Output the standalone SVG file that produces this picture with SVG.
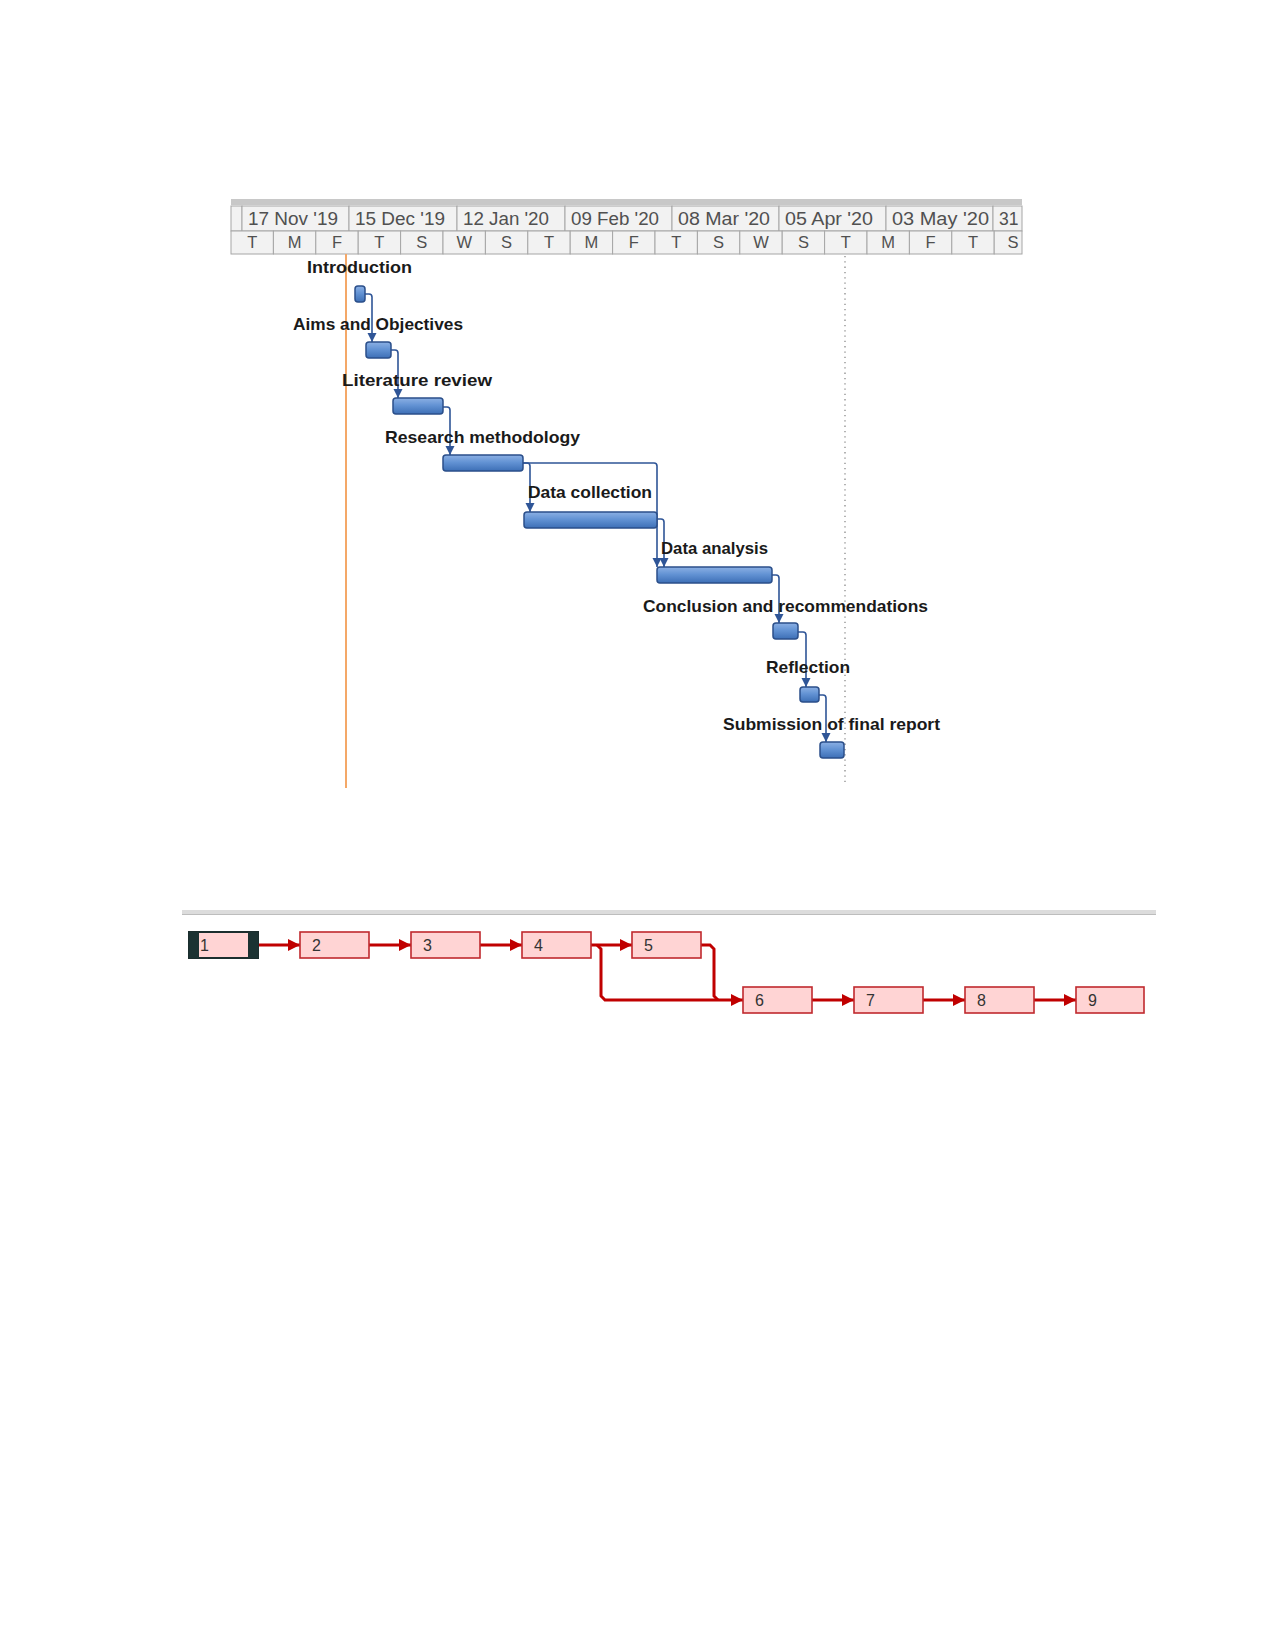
<svg xmlns="http://www.w3.org/2000/svg" width="1275" height="1651" viewBox="0 0 1275 1651">
<defs>
<style>
.hdr{fill:#f2f2f2;stroke:#a6a6a6;stroke-width:1}
.ht{font-family:"Liberation Sans",Arial,sans-serif;font-size:17.5px;fill:#505050}
.dt{font-family:"Liberation Sans",Arial,sans-serif;font-size:16.5px;fill:#505050;text-anchor:middle}
.lbl{font-family:"Liberation Sans",Arial,sans-serif;font-size:16.5px;font-weight:bold;fill:#1a1a1a}
.bar{fill:url(#barg);stroke:#2b4f8a;stroke-width:1.5}
.gc{fill:none;stroke:#2f5597;stroke-width:1.6;marker-end:url(#ga)}
.nbox{fill:#ffd4d4;stroke:#c0282d;stroke-width:1.6}
.nt{font-family:"Liberation Sans",Arial,sans-serif;font-size:16px;fill:#333}
.nc{fill:none;stroke:#c00000;stroke-width:3}
.na{marker-end:url(#na)}
</style>
<linearGradient id="barg" x1="0" y1="0" x2="0" y2="1">
<stop offset="0" stop-color="#8cb0e4"/>
<stop offset="0.45" stop-color="#6393d4"/>
<stop offset="1" stop-color="#3d6fb6"/>
</linearGradient>
<marker id="ga" viewBox="0 0 10 10" refX="10" refY="5" markerUnits="userSpaceOnUse" markerWidth="9" markerHeight="15" orient="auto">
<path d="M0,0 L10,5 L0,10 z" fill="#2f5597"/>
</marker>
<marker id="na" viewBox="0 0 10 10" refX="10" refY="5" markerUnits="userSpaceOnUse" markerWidth="12" markerHeight="12" orient="auto">
<path d="M0,0 L10,5 L0,10 z" fill="#c00000"/>
</marker>
</defs>
<rect width="1275" height="1651" fill="#ffffff"/>

<g id="gantt-header">
<rect x="231" y="199" width="791" height="6" fill="#c8c8c8"/>
<rect class="hdr" x="231" y="206" width="11" height="25"/>
<rect class="hdr" x="242" y="206" width="107" height="25"/>
<rect class="hdr" x="349" y="206" width="108" height="25"/>
<rect class="hdr" x="457" y="206" width="108" height="25"/>
<rect class="hdr" x="565" y="206" width="107" height="25"/>
<rect class="hdr" x="672" y="206" width="107" height="25"/>
<rect class="hdr" x="779" y="206" width="107" height="25"/>
<rect class="hdr" x="886" y="206" width="107" height="25"/>
<rect class="hdr" x="993" y="206" width="29" height="25"/>
<text class="ht" x="248" y="225" textLength="90" lengthAdjust="spacingAndGlyphs">17 Nov '19</text>
<text class="ht" x="355" y="225" textLength="90" lengthAdjust="spacingAndGlyphs">15 Dec '19</text>
<text class="ht" x="463" y="225" textLength="86" lengthAdjust="spacingAndGlyphs">12 Jan '20</text>
<text class="ht" x="571" y="225" textLength="88" lengthAdjust="spacingAndGlyphs">09 Feb '20</text>
<text class="ht" x="678" y="225" textLength="92" lengthAdjust="spacingAndGlyphs">08 Mar '20</text>
<text class="ht" x="785" y="225" textLength="88" lengthAdjust="spacingAndGlyphs">05 Apr '20</text>
<text class="ht" x="892" y="225" textLength="97" lengthAdjust="spacingAndGlyphs">03 May '20</text>
<text class="ht" x="999" y="225">31</text>
<rect class="hdr" x="231" y="231" width="42.4" height="23"/>
<rect class="hdr" x="273.4" y="231" width="42.4" height="23"/>
<rect class="hdr" x="315.8" y="231" width="42.4" height="23"/>
<rect class="hdr" x="358.2" y="231" width="42.4" height="23"/>
<rect class="hdr" x="400.6" y="231" width="42.4" height="23"/>
<rect class="hdr" x="443" y="231" width="42.4" height="23"/>
<rect class="hdr" x="485.4" y="231" width="42.4" height="23"/>
<rect class="hdr" x="527.8" y="231" width="42.4" height="23"/>
<rect class="hdr" x="570.2" y="231" width="42.4" height="23"/>
<rect class="hdr" x="612.6" y="231" width="42.4" height="23"/>
<rect class="hdr" x="655" y="231" width="42.4" height="23"/>
<rect class="hdr" x="697.4" y="231" width="42.4" height="23"/>
<rect class="hdr" x="739.8" y="231" width="42.4" height="23"/>
<rect class="hdr" x="782.2" y="231" width="42.4" height="23"/>
<rect class="hdr" x="824.6" y="231" width="42.4" height="23"/>
<rect class="hdr" x="867" y="231" width="42.4" height="23"/>
<rect class="hdr" x="909.4" y="231" width="42.4" height="23"/>
<rect class="hdr" x="951.8" y="231" width="42.4" height="23"/>
<rect class="hdr" x="994.2" y="231" width="27.8" height="23"/>
<text class="dt" x="252.2" y="248">T</text>
<text class="dt" x="294.6" y="248">M</text>
<text class="dt" x="337" y="248">F</text>
<text class="dt" x="379.4" y="248">T</text>
<text class="dt" x="421.8" y="248">S</text>
<text class="dt" x="464.2" y="248">W</text>
<text class="dt" x="506.6" y="248">S</text>
<text class="dt" x="549" y="248">T</text>
<text class="dt" x="591.4" y="248">M</text>
<text class="dt" x="633.8" y="248">F</text>
<text class="dt" x="676.2" y="248">T</text>
<text class="dt" x="718.6" y="248">S</text>
<text class="dt" x="761" y="248">W</text>
<text class="dt" x="803.4" y="248">S</text>
<text class="dt" x="845.8" y="248">T</text>
<text class="dt" x="888.2" y="248">M</text>
<text class="dt" x="930.6" y="248">F</text>
<text class="dt" x="973" y="248">T</text>
<text class="dt" x="1013" y="248">S</text>
</g>

<g id="gantt-guides">
<line x1="346" y1="254" x2="346" y2="788" stroke="#f4a868" stroke-width="2"/>
<line x1="845" y1="256" x2="845" y2="785" stroke="#8a8a8a" stroke-width="1.3" stroke-dasharray="1.3 4"/>
</g>

<g id="gantt-connectors">
<path class="gc" d="M365 294 H369 Q372 294 372 297 V342"/>
<path class="gc" d="M391 350 H395 Q398 350 398 353 V398"/>
<path class="gc" d="M443 407 H447 Q450 407 450 410 V455"/>
<path class="gc" d="M523 463 H527 Q530 463 530 466 V512"/>
<path class="gc" d="M523 463 H654 Q657 463 657 466 V567"/>
<path class="gc" d="M657 519 H661 Q664 519 664 522 V567"/>
<path class="gc" d="M772 575 H776 Q779 575 779 578 V623"/>
<path class="gc" d="M798 632 H803 Q806 632 806 635 V687"/>
<path class="gc" d="M819 695 H823 Q826 695 826 698 V742"/>
</g>

<g id="task-introduction">
<rect class="bar" x="355" y="286" width="10" height="16" rx="3"/>
<text class="lbl" x="307" y="273" textLength="105" lengthAdjust="spacingAndGlyphs">Introduction</text>
</g>
<g id="task-aims">
<rect class="bar" x="366" y="342" width="25" height="16" rx="3"/>
<text class="lbl" x="293" y="330" textLength="170" lengthAdjust="spacingAndGlyphs">Aims and Objectives</text>
</g>
<g id="task-literature">
<rect class="bar" x="393" y="398" width="50" height="16" rx="3"/>
<text class="lbl" x="342" y="386" textLength="150" lengthAdjust="spacingAndGlyphs">Literature review</text>
</g>
<g id="task-methodology">
<rect class="bar" x="443" y="455" width="80" height="16" rx="3"/>
<text class="lbl" x="385" y="443" textLength="195" lengthAdjust="spacingAndGlyphs">Research methodology</text>
</g>
<g id="task-data-collection">
<rect class="bar" x="524" y="512" width="133" height="16" rx="3"/>
<text class="lbl" x="528" y="498" textLength="124" lengthAdjust="spacingAndGlyphs">Data collection</text>
</g>
<g id="task-data-analysis">
<rect class="bar" x="657" y="567" width="115" height="16" rx="3"/>
<text class="lbl" x="661" y="554" textLength="107" lengthAdjust="spacingAndGlyphs">Data analysis</text>
</g>
<g id="task-conclusion">
<rect class="bar" x="773" y="623" width="25" height="16" rx="3"/>
<text class="lbl" x="643" y="612" textLength="285" lengthAdjust="spacingAndGlyphs">Conclusion and recommendations</text>
</g>
<g id="task-reflection">
<rect class="bar" x="800" y="687" width="19" height="15" rx="3"/>
<text class="lbl" x="766" y="673" textLength="84" lengthAdjust="spacingAndGlyphs">Reflection</text>
</g>
<g id="task-submission">
<rect class="bar" x="820" y="742" width="24" height="16" rx="3"/>
<text class="lbl" x="723" y="730" textLength="217" lengthAdjust="spacingAndGlyphs">Submission of final report</text>
</g>

<g id="network-separator">
<rect x="182" y="910" width="974" height="5" fill="#dcdcdc"/>
<line x1="182" y1="914.5" x2="1156" y2="914.5" stroke="#bdbdbd" stroke-width="1"/>
</g>

<g id="network-connectors">
<path class="nc na" d="M258 945 H300"/>
<path class="nc na" d="M369 945 H411"/>
<path class="nc na" d="M480 945 H522"/>
<path class="nc na" d="M591 945 H632"/>
<path class="nc na" d="M597 945 L601 949 V996 L605 1000 H743"/>
<path class="nc" d="M701 945 H710 L714 949 V996 L718 1000"/>
<path class="nc na" d="M812 1000 H854"/>
<path class="nc na" d="M923 1000 H965"/>
<path class="nc na" d="M1034 1000 H1076"/>
</g>

<g id="node-1">
<rect x="189" y="932" width="69" height="26" fill="#ffd4d4" stroke="#1b2d2d" stroke-width="2"/>
<rect x="189" y="932" width="10" height="26" fill="#1b3232"/>
<rect x="248" y="932" width="10" height="26" fill="#1b3232"/>
<text class="nt" x="200" y="951">1</text>
</g>
<g id="node-2"><rect class="nbox" x="300" y="932" width="69" height="26"/><text class="nt" x="312" y="951">2</text></g>
<g id="node-3"><rect class="nbox" x="411" y="932" width="69" height="26"/><text class="nt" x="423" y="951">3</text></g>
<g id="node-4"><rect class="nbox" x="522" y="932" width="69" height="26"/><text class="nt" x="534" y="951">4</text></g>
<g id="node-5"><rect class="nbox" x="632" y="932" width="69" height="26"/><text class="nt" x="644" y="951">5</text></g>
<g id="node-6"><rect class="nbox" x="743" y="987" width="69" height="26"/><text class="nt" x="755" y="1006">6</text></g>
<g id="node-7"><rect class="nbox" x="854" y="987" width="69" height="26"/><text class="nt" x="866" y="1006">7</text></g>
<g id="node-8"><rect class="nbox" x="965" y="987" width="69" height="26"/><text class="nt" x="977" y="1006">8</text></g>
<g id="node-9"><rect class="nbox" x="1076" y="987" width="68" height="26"/><text class="nt" x="1088" y="1006">9</text></g>
</svg>
